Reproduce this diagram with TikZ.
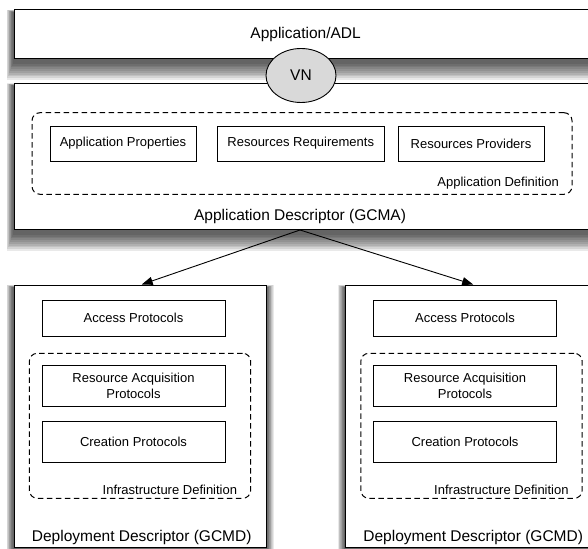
\documentclass[tikz,border=0pt]{standalone}
\usepackage{fontspec}
\setmainfont{Liberation Sans}
\usetikzlibrary{arrows.meta,shapes.geometric}
\pgfdeclarelayer{background}
\pgfsetlayers{background,main}

\newcommand\bigtext{\fontsize{15.5pt}{18pt}\selectfont}
\newcommand\smalltext{\fontsize{13pt}{15.7pt}\selectfont}

% soft drop shadow behind a named node (stacked translucent layers)
\newcommand\softshadow[1]{%
  \begin{pgfonlayer}{background}
    \foreach \k in {1,...,10}{%
      \fill[black,opacity=0.085]
        ([xshift={-0.7pt*\k}, yshift={(0.25*\k-3)*1pt}]#1.north west)
        rectangle ([xshift={0.7pt*\k}, yshift={(-3-1.8*\k)*1pt}]#1.south east);
    }%
  \end{pgfonlayer}}

\tikzset{
  frame/.style={draw=black, line width=1pt, fill=white, inner sep=0pt},
  part/.style={draw=black, line width=0.9pt, fill=white, font=\smalltext,
    align=center, inner sep=0pt},
  group/.style={draw=black, line width=1pt, dash pattern=on 5.5pt off 3.5pt,
    rounded corners=8pt, inner sep=0pt},
  tag/.style={font=\smalltext, inner sep=0pt},
  title/.style={font=\bigtext, inner sep=0pt},
  flow/.style={line width=0.9pt, -{Triangle[length=11pt,width=8pt]}},
  vn/.style={ellipse, draw=black, line width=0.9pt, fill=black!15,
    minimum width=70pt, minimum height=54pt, inner sep=0pt, font=\bigtext}
}

% one deployment descriptor block; #1 = name prefix, #2 = horizontal offset
\newcommand\deployment[2]{%
  \begin{scope}[xshift=#2pt]
    \node[frame, minimum width=252pt, minimum height=262pt] (#1) at (140,416) {};
    \node[part, minimum width=183pt, minimum height=35.3pt] (#1access)
      at (133.5,318.35) {Access Protocols};
    \node[group, minimum width=221.4pt, minimum height=145pt] (#1infra)
      at (140,425.8) {};
    \node[part, minimum width=183pt, minimum height=41.7pt] (#1acq)
      at (133.5,385.85) {Resource Acquisition\\Protocols};
    \node[part, minimum width=183pt, minimum height=41.7pt] (#1create)
      at (133.5,441.85) {Creation Protocols};
    \node[tag, anchor=east] (#1infratext) at (237.3,489.5) {Infrastructure Definition};
    \node[title] (#1text) at (141.7,537) {Deployment Descriptor (GCMD)};
  \end{scope}}

\begin{document}
\begin{tikzpicture}[x=1pt,y=-1pt]
\useasboundingbox (0,0) rectangle (588,548);
\begin{pgfonlayer}{background}
  \fill[white] (0,0) rectangle (588,548);
\end{pgfonlayer}

% application layer
\node[frame, minimum width=588pt, minimum height=48.5pt] (adl) at (308,34.25) {};
\node[title] (adltext) at (305.6,34) {Application/ADL};
\softshadow{adl}

% application descriptor
\node[frame, minimum width=588pt, minimum height=146pt] (gcma) at (308,156.5) {};
\node[title] (gcmatext) at (300,216.7) {Application Descriptor (GCMA)};
\softshadow{gcma}
\node[group, minimum width=540pt, minimum height=81.6pt] (appdef) at (302,153.5) {};
\node[part, minimum width=146pt, minimum height=35pt] (props) at (123,143.5)
  {Application Properties};
\node[part, minimum width=166.5pt, minimum height=35pt] (reqs) at (300.75,143.5)
  {Resources Requirements};
\node[part, minimum width=146pt, minimum height=35pt] (provs) at (471,143.5)
  {Resources Providers};
\node[tag, anchor=east] (appdeftext) at (559,183.3) {Application Definition};

% virtual node joining the two layers
\node[vn] (vn) at (301,75.5) {VN};

% deployment descriptors
\deployment{dl}{0}
\deployment{dr}{331.5}
\softshadow{dl}
\softshadow{dr}

% mapping arrows
\coordinate (fork) at (gcmatext |- gcma.south);
\draw[flow] (fork) -- (dltext |- dl.north);
\draw[flow] (fork) -- (drtext |- dr.north);
\end{tikzpicture}
\end{document}
